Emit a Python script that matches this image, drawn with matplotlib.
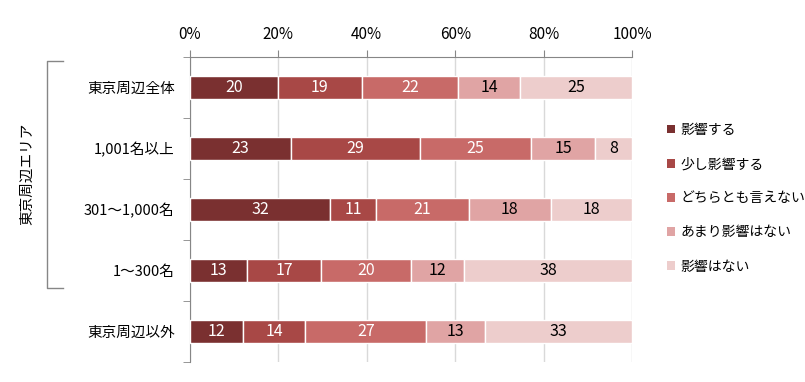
import matplotlib
matplotlib.use("Agg")
import matplotlib.pyplot as plt
import numpy as np
from matplotlib.patches import Patch
from matplotlib.lines import Line2D

plt.rcParams['font.family'] = ['Noto Sans CJK JP', 'DejaVu Sans']

#### Data ####
categories = ['東京周辺全体', '1,001名以上', '301～1,000名', '1～300名', '東京周辺以外']
series_names = ['影響する', '少し影響する', 'どちらとも言えない', 'あまり影響はない', '影響はない']

# share (%)
s1 = [19.8, 22.8, 31.7, 13.0, 11.9]
s2 = [19.1, 29.2, 10.3, 16.6, 14.2]
s3 = [21.7, 25.2, 21.1, 20.3, 27.4]
s4 = [14.1, 14.4, 18.5, 12.1, 13.3]
s5 = [25.3, 8.4, 18.4, 38.0, 33.2]

# printed labels
l1 = [20, 23, 32, 13, 12]
l2 = [19, 29, 11, 17, 14]
l3 = [22, 25, 21, 20, 27]
l4 = [14, 15, 18, 12, 13]
l5 = [25, 8, 18, 38, 33]

colors = ['#7A3030', '#A84846', '#C86A68', '#E0A4A4', '#EDCDCC']
text_colors = ['white', 'white', 'white', 'black', 'black']

series = [s1, s2, s3, s4, s5]
labels = [l1, l2, l3, l4, l5]

#### Plot ####
fig = plt.figure(figsize=(8.05, 3.82), dpi=100)
ax = fig.add_axes([190/805, 20/382, 442/805, 305/382])

y = np.arange(len(categories))
left = np.zeros(len(categories))
for vals, labs, c, tc in zip(series, labels, colors, text_colors):
    vals = np.array(vals)
    ax.barh(y, vals, left=left, height=0.38, color=c, edgecolor='white', linewidth=1, zorder=3)
    for yi, (v, l, lf) in enumerate(zip(vals, labs, left)):
        ax.text(lf + v / 2, yi, str(l), ha='center', va='center', color=tc, fontsize=11.5, zorder=4)
    left += vals

ax.set_xlim(0, 100)
ax.set_ylim(len(categories) - 0.5, -0.5)

ax.xaxis.tick_top()
ax.set_xticks([0, 20, 40, 60, 80, 100])
ax.set_xticklabels(['0%', '20%', '40%', '60%', '80%', '100%'], fontsize=11)
ax.tick_params(axis='x', direction='out', length=5, color='#868686', pad=5)
ax.grid(axis='x', color='#D9D9D9', linewidth=1, zorder=0)
ax.set_axisbelow(True)

ax.set_yticks(y)
ax.set_yticklabels(categories, fontsize=10.5)
ax.set_yticks(np.arange(len(categories) + 1) - 0.5, minor=True)
ax.tick_params(axis='y', which='major', length=0, pad=11)
ax.tick_params(axis='y', which='minor', length=5, color='#868686')

for sp in ['right', 'bottom']:
    ax.spines[sp].set_visible(False)
for sp in ['top', 'left']:
    ax.spines[sp].set_color('#868686')

# legend
handles = [Patch(facecolor=c, edgecolor='none') for c in colors]
fig.legend(handles, series_names, loc='upper left', bbox_to_anchor=(660/805, 1 - 116/382),
           frameon=False, fontsize=10, handlelength=0.6, handleheight=0.6,
           handletextpad=0.4, labelspacing=1.45, borderpad=0)

# bracket for Tokyo area group
fig.add_artist(Line2D([63/805, 47/805, 47/805, 63/805],
                      [1 - 61/382, 1 - 61/382, 1 - 288/382, 1 - 288/382],
                      color='#868686', linewidth=1))
fig.text(27/805, 1 - 174/382, '東京周辺エリア', rotation=90, ha='center', va='center', fontsize=10.5)

plt.savefig('out.png', dpi=100)
